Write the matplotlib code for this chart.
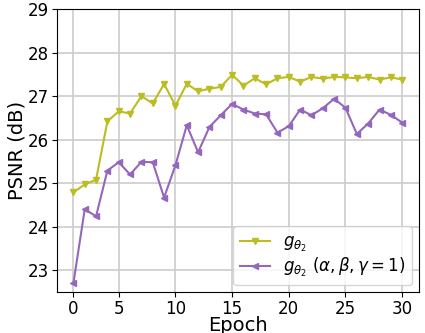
import numpy as np
import matplotlib
matplotlib.use("Agg")
import matplotlib.pyplot as plt

epochs = list(range(1, 31))
tick_pos = [1, 5, 10, 15, 20, 25, 30]
tick_labels = ["0", "5", "10", "15", "20", "25", "30"]

psnr_base = [24.79, 24.97, 25.08, 26.42, 26.65, 26.60, 27.00, 26.83, 27.28, 26.78,
             27.28, 27.11, 27.17, 27.21, 27.49, 27.24, 27.41, 27.27, 27.41, 27.44,
             27.33, 27.44, 27.40, 27.44, 27.43, 27.41, 27.44, 27.38, 27.43, 27.38]
psnr_abg = [22.70, 24.40, 24.24, 25.29, 25.48, 25.20, 25.49, 25.48, 24.67, 25.41,
            26.33, 25.71, 26.29, 26.56, 26.82, 26.69, 26.60, 26.58, 26.16, 26.31,
            26.69, 26.56, 26.72, 26.94, 26.73, 26.13, 26.37, 26.69, 26.57, 26.39]

fig = plt.figure(figsize=(4.25, 3.33), dpi=100)
ax = fig.add_axes([0.134, 0.123, 0.851, 0.850])

ax.plot(epochs, psnr_base, color="#bcbd22", marker="v", markersize=5,
        linewidth=1.5, label=r"$g_{\theta_2}$")
ax.plot(epochs, psnr_abg, color="#9467bd", marker="<", markersize=5,
        linewidth=1.5, label=r"$g_{\theta_2}\ (\alpha, \beta, \gamma = 1)$")

ax.set_ylim(22.5, 29)
ax.set_yticks([23, 24, 25, 26, 27, 28, 29])
ax.set_xticks(tick_pos)
ax.set_xticklabels(tick_labels)
ax.tick_params(labelsize=12, pad=2)
ax.grid(True, color="0.8", linewidth=1.2)
ax.set_axisbelow(True)
ax.set_xlabel("Epoch", fontsize=14, labelpad=-1)
ax.set_ylabel("PSNR (dB)", fontsize=14, labelpad=1)
ax.legend(loc="lower right", fontsize=12, borderaxespad=0.4,
          labelspacing=0.1, handlelength=1.8)

fig.savefig("out.png", dpi=100)
